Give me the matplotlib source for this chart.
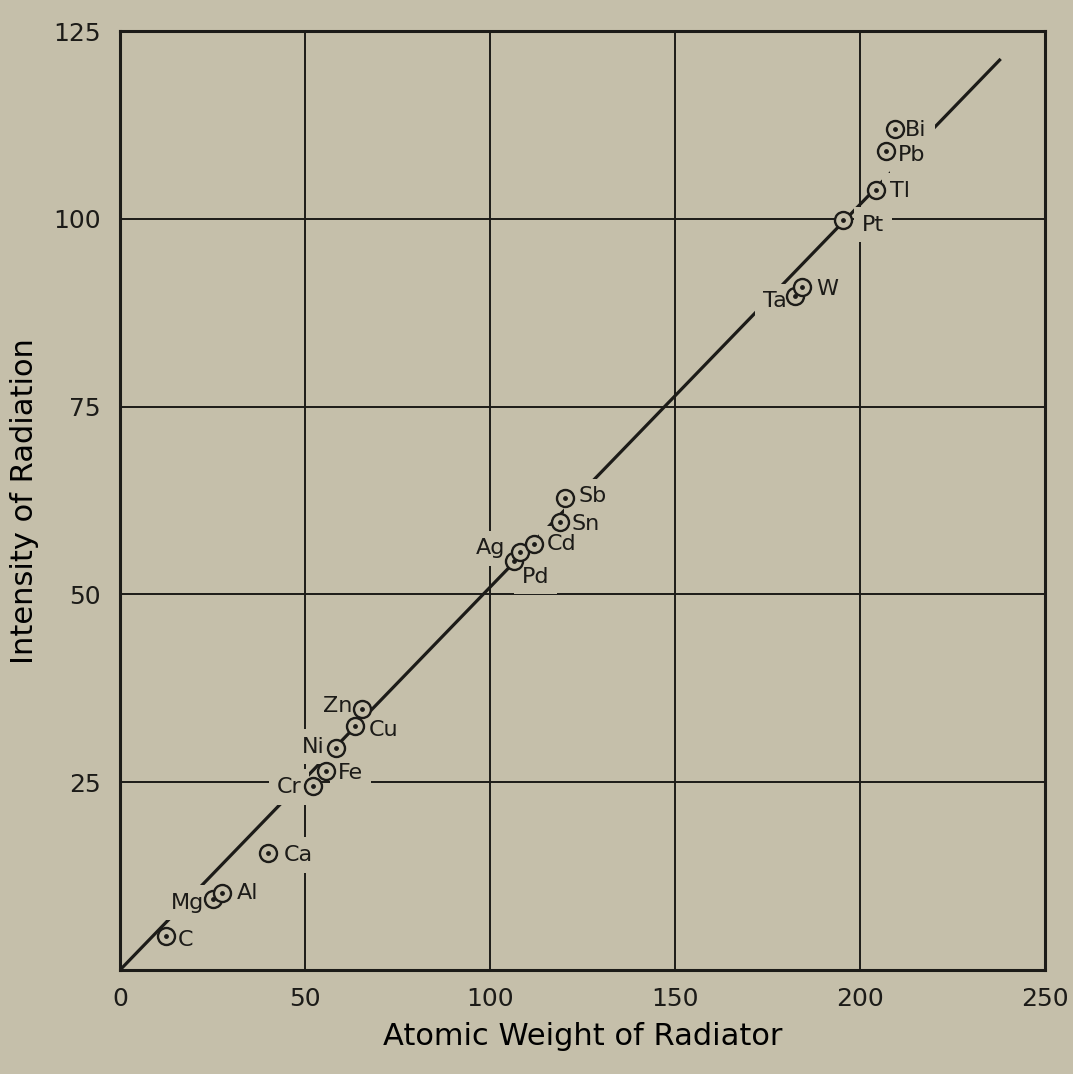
import numpy as np
import matplotlib
matplotlib.use("Agg")
import matplotlib.pyplot as plt

# ------------------------------------------------------------------ data
elements = ["C", "Mg", "Al", "Ca", "Cr", "Fe", "Ni", "Cu", "Zn",
            "Pd", "Ag", "Cd", "Sn", "Sb", "Ta", "W", "Pt", "Tl", "Pb", "Bi"]
atomic_weight = [12.4, 25.1, 27.6, 40.0, 52.2, 55.7, 58.4, 63.5, 65.4,
                 106.5, 108.0, 111.9, 118.9, 120.3, 182.4, 184.3, 195.4, 204.3, 207.0, 209.5]
intensity = [4.5, 9.5, 10.3, 15.6, 24.5, 26.5, 29.6, 32.5, 34.7,
             54.5, 55.6, 56.7, 59.7, 62.8, 89.7, 90.9, 99.9, 103.9, 109.0, 112.0]

fit_x = [0, 238]
fit_y = [0, 121.3]

x_ticks = [0, 50, 100, 150, 200, 250]
y_ticks = [25, 50, 75, 100, 125]

# label offsets in pixels + alignment (layout only)
label_pos = {
    "C": (12, -4, "left"), "Mg": (-9, -4, "right"), "Al": (15, 0, "left"),
    "Ca": (16, -2, "left"), "Cr": (-12, -1, "right"), "Fe": (12, -2, "left"),
    "Ni": (-11, 1, "right"), "Cu": (14, -4, "left"), "Zn": (-10, 3, "right"),
    "Pd": (8, -16, "left"), "Ag": (-14, 4, "right"), "Cd": (13, 0, "left"),
    "Sn": (12, -2, "left"), "Sb": (13, 2, "left"), "Ta": (-8, -5, "right"),
    "W": (14, -2, "left"), "Pt": (19, -5, "left"), "Tl": (14, -1, "left"),
    "Pb": (12, -4, "left"), "Bi": (10, -1, "left"),
}

BG = "#c5bfaa"
INK = "#1c1b18"

plt.rcParams.update({
    "font.family": "DejaVu Sans",
    "text.color": INK,
    "axes.edgecolor": INK,
    "xtick.color": INK, "ytick.color": INK,
})

fig = plt.figure(figsize=(10.73, 10.74), dpi=100, facecolor=BG)
ax = fig.add_axes([0.1118, 0.0968, 0.8622, 0.8742], facecolor=BG)

ax.set_xlim(0, 250)
ax.set_ylim(0, 125)
ax.set_xticks(x_ticks)
ax.set_yticks(y_ticks)
ax.set_xticklabels([str(t) for t in x_ticks], fontsize=18)
ax.set_yticklabels([str(t) for t in y_ticks], fontsize=18)
ax.tick_params(length=0, pad=14)
ax.tick_params(axis="x", pad=12)
for s in ax.spines.values():
    s.set_linewidth(2.2)
ax.grid(True, color=INK, linewidth=1.4, zorder=1)
ax.set_axisbelow(True)

ax.plot(fit_x, fit_y, color=INK, linewidth=2.3, zorder=2, solid_capstyle="butt")

# labels: first a masking layer (breaks grid + fit line), then the text itself
for name, xv, yv in zip(elements, atomic_weight, intensity):
    dx, dy, ha = label_pos[name]
    ax.annotate(name, (xv, yv), xytext=(dx, dy), textcoords="offset pixels",
                ha=ha, va="center", fontsize=16, zorder=3, color=(0, 0, 0, 0),
                bbox=dict(boxstyle="square,pad=0.35", fc=BG, ec="none"))
    ax.annotate(name, (xv, yv), xytext=(dx, dy), textcoords="offset pixels",
                ha=ha, va="center", fontsize=16, zorder=6)

ax.scatter(atomic_weight, intensity, s=150, facecolor=BG, edgecolor=INK,
           linewidth=1.7, zorder=4)
ax.scatter(atomic_weight, intensity, s=6, color=INK, zorder=5)

ax.set_xlabel("Atomic Weight of Radiator", fontsize=22, labelpad=8)
ax.set_ylabel("Intensity of Radiation", fontsize=22, labelpad=10)

fig.savefig("out.png", dpi=100, facecolor=BG)
